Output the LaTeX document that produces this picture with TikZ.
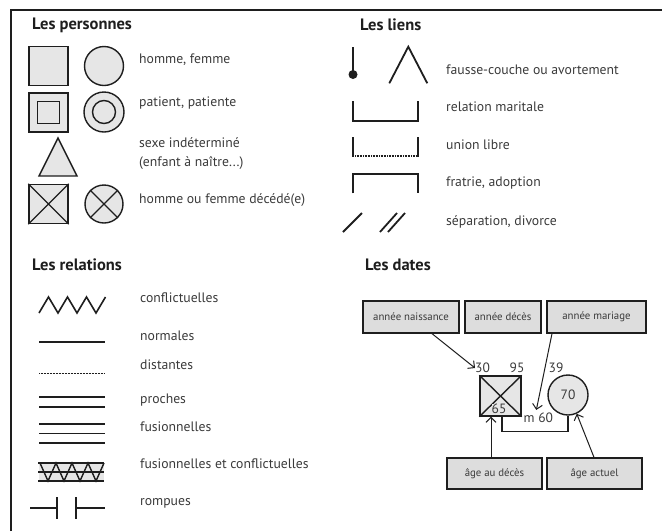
\documentclass[tikz,border=0pt]{standalone}
\usepackage{fontspec}
\setmainfont{PT Sans}
\usetikzlibrary{arrows.meta,calc}
\definecolor{ink}{HTML}{1E1E1E}
\definecolor{txtgray}{HTML}{3A3A3A}
\definecolor{shapefill}{HTML}{E6E6E6}
\definecolor{boxfill}{HTML}{DDDDDD}
\tikzset{
  head/.style={anchor=west, font=\bfseries\fontsize{16.5}{18}\selectfont, text=ink, inner sep=0},
  lbl/.style={anchor=west, font=\fontsize{13.7}{15}\selectfont, text=txtgray, inner sep=0},
  sym/.style={draw=ink, line width=1.4pt},
  person/.style={sym, fill=shapefill, inner sep=0, minimum size=39pt},
  link/.style={draw=ink, line width=1.8pt},
  datebox/.style={draw=ink, line width=1.3pt, fill=boxfill, inner sep=0,
    minimum height=32pt, font=\fontsize{10.8}{12}\selectfont, text=txtgray},
  num/.style={font=\fontsize{13.5}{15}\selectfont, text=txtgray, inner sep=0},
  arr/.style={draw=ink, line width=1pt, -{Straight Barb[angle=90:7pt]}},
}
\begin{document}
\begin{tikzpicture}[x=1pt,y=-1pt]
\useasboundingbox (0,0) rectangle (662,531);
% outer frame (top and left edges)
\draw[ink, line width=2.4pt] (11,531) -- (11,10) -- (662,10);

% ---------------- Les personnes ----------------
\node[head] (hpers) at (32,25) {Les personnes};
\node[person, rectangle] (man) at (48.5,66) {};
\node[person, circle] (woman) at (104,66) {};
\node[lbl] (tman) at (139,60) {homme, femme};

\node[person, rectangle] (pman) at (48.5,112.5) {};
\node[sym, rectangle, inner sep=0, minimum size=22pt] (pmanin) at (pman) {};
\node[person, circle, minimum size=40pt] (pwoman) at (104,112) {};
\node[sym, circle, inner sep=0, minimum size=23pt] (pwomanin) at (pwoman) {};
\node[lbl] (tpat) at (139,103) {patient, patiente};

\draw[sym, fill=shapefill, line join=miter] (58,138) -- (77,176) -- (39,176) -- cycle;
\node[lbl] (tsex1) at (139,143) {sexe indéterminé};
\node[lbl] (tsex2) at (139,163) {(enfant à naître...)};

\node[person, rectangle] (dman) at (48.5,204) {};
\draw[sym] (dman.north west) -- (dman.south east) (dman.north east) -- (dman.south west);
\node[person, circle, minimum size=38pt] (dwoman) at (104,204) {};
\draw[sym] (dwoman.45) -- (dwoman.225) (dwoman.135) -- (dwoman.315);
\node[lbl] (tdec) at (139,200) {homme ou femme décédé(e)};

% ---------------- Les liens ----------------
\node[head] (hliens) at (360,25) {Les liens};
\draw[link] (353,47) -- (353,74);
\fill[ink] (353,74.5) circle (4.5pt);
\draw[link, line join=miter] (389.3,83.3) -- (408.3,46.7) -- (427.3,83.3);
\node[lbl] (tfc) at (446,70) {fausse-couche ou avortement};

\draw[link] (353.3,101) -- (353.3,120.7) -- (417.7,120.7) -- (417.7,101);
\node[lbl] (tmar) at (446,107) {relation maritale};

\draw[link] (353.3,137) -- (353.3,156.7);
\draw[link] (417.7,137) -- (417.7,156.7);
\draw[ink, line width=1.5pt, dash pattern=on 1pt off 0.6pt] (353.3,156.2) -- (417.7,156.2);
\node[lbl] (tul) at (446,145) {union libre};

\draw[link] (353.3,193.3) -- (353.3,174) -- (417.7,174) -- (417.7,193.3);
\node[lbl] (tfra) at (446,183) {fratrie, adoption};

\draw[link] (343,232) -- (362,213);
\draw[link] (380,232) -- (397,213);
\draw[link] (388,232) -- (405,213);
\node[lbl] (tsep) at (446,222) {séparation, divorce};

% ---------------- Les relations ----------------
\node[head] (hrel) at (32,265) {Les relations};
\draw[link, line width=1.6pt, line join=miter]
  (39,313) -- (48.5,297) -- (58,313) -- (67.5,297) -- (77,313) -- (86.5,297) -- (96,313) -- (105.5,297);
\node[lbl] (tconf) at (140,298) {conflictuelles};

\draw[link] (39,342) -- (105,342);
\node[lbl] (tnorm) at (140,336) {normales};

\draw[ink, line width=1pt, dash pattern=on 1pt off 0.5pt] (39,373) -- (105,373);
\node[lbl] (tdist) at (140,365) {distantes};

\draw[link] (39,397) -- (105,397);
\draw[link] (39,407) -- (105,407);
\node[lbl] (tpro) at (140,400) {proches};

\draw[link] (39,424) -- (105,424);
\draw[link] (39,433.5) -- (105,433.5);
\draw[link] (39,443) -- (105,443);
\node[lbl] (tfus) at (140,427) {fusionnelles};

\fill[shapefill] (39,463) rectangle (104,481);
\draw[link] (38,463) -- (104,463);
\draw[link] (38,472) -- (104,472);
\draw[link] (38,481) -- (104,481);
\draw[link, line width=1.4pt]
  (40,463) -- (48,481) -- (56,463) -- (64,481) -- (72,463) -- (80,481) -- (88,463) -- (96,481) -- (104,463);
\node[lbl] (tfc2) at (140,464) {fusionnelles et conflictuelles};

\draw[link] (30,508) -- (57,508);
\draw[link] (57,497) -- (57,519);
\draw[link] (76,497) -- (76,519);
\draw[link] (76,508) -- (105,508);
\node[lbl] (trom) at (140,503) {rompues};

% ---------------- Les dates ----------------
\node[head] (hdates) at (365,265) {Les dates};
\node[datebox, minimum width=96pt] (bnais) at (411,317) {année naissance};
\node[datebox, minimum width=76pt] (bdec) at (503,317) {année décès};
\node[datebox, minimum width=99pt] (bmar) at (596.5,317) {année mariage};
\node[datebox, minimum width=95pt, minimum height=31pt] (bagedec) at (494.5,473.5) {âge au décès};
\node[datebox, minimum width=95pt, minimum height=31pt] (bageact) at (594.5,473.5) {âge actuel};

\node[person, rectangle, minimum width=41pt, minimum height=40pt] (dsq) at (500.5,396) {};
\draw[sym] (dsq.north west) -- (dsq.south east) (dsq.north east) -- (dsq.south west);
\node[person, circle, minimum size=40pt] (dci) at (568,395) {};

\node[num, anchor=west] (n30) at (475,368) {30};
\node[num] (n95) at (517,368) {95};
\node[num] (n39) at (556,368) {39};
\node[num] (n70) at (dci) {70};
\node[num, fill=shapefill] (n65) at (499,409) {65};
\node[num, anchor=west] (nm60) at (523.5,418) {m 60};

% marriage line
\draw[ink, line width=1.3pt] ([xshift=1.5pt]dsq.south) -- ++(0,15) -| (dci.south);

% annotation arrows
\draw[arr] ([xshift=21pt]bnais.south) -- (n30.west);
\draw[arr] ([xshift=-44.5pt]bmar.south) -- ([xshift=-2pt,yshift=3pt]nm60.north);
\draw[arr] ([xshift=-3.5pt]bagedec.north) -- ([xshift=-3.5pt]bagedec.north |- dsq.south);
\draw[arr] ([xshift=-0.5pt]bageact.north) -- (dci.-65);
\end{tikzpicture}
\end{document}
